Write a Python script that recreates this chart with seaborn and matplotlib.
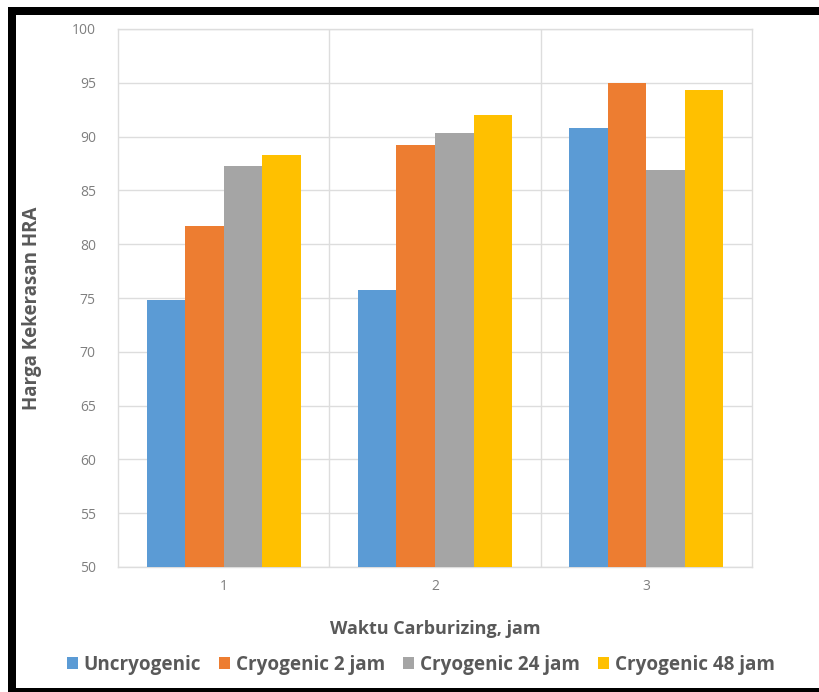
import numpy as np
import pandas as pd
import matplotlib
matplotlib.use("Agg")
import matplotlib.pyplot as plt
from matplotlib.patches import Rectangle
import seaborn as sns

# data
waktu = ["1", "2", "3"]
perlakuan = ["Uncryogenic", "Cryogenic 2 jam", "Cryogenic 24 jam", "Cryogenic 48 jam"]
uncryo = [74.8, 75.7, 90.8]
cryo_2 = [81.7, 89.2, 95.0]
cryo_24 = [87.3, 90.3, 86.9]
cryo_48 = [88.3, 92.0, 94.3]
warna = ["#5B9BD5", "#ED7D31", "#A5A5A5", "#FFC000"]

df = pd.DataFrame({
    "waktu": np.tile(waktu, 4),
    "perlakuan": np.repeat(perlakuan, 3),
    "hra": uncryo + cryo_2 + cryo_24 + cryo_48,
})

sns.set_style("white")
plt.rcParams['font.family'] = ['Open Sans', 'DejaVu Sans']

fig = plt.figure(figsize=(8.2, 6.92), dpi=100)
ax = fig.add_axes([118/820, 1-567/692, (752-118)/820, (567-29)/692])

sns.barplot(data=df, x="waktu", y="hra", hue="perlakuan", order=waktu,
            hue_order=perlakuan, palette=warna, width=0.73, gap=0,
            saturation=1, linewidth=0, ax=ax, legend=True, zorder=3)

ax.set_ylim(50, 100)
ax.set_yticks(range(50, 101, 5))
ax.set_xlim(-0.5, 2.5)
# garis grid vertikal di batas kategori
ax.set_xticks([0.5, 1.5], minor=True)
ax.grid(axis="y", which="major", color="#DDDDDD", linewidth=1, zorder=0)
ax.grid(axis="x", which="minor", color="#DDDDDD", linewidth=1, zorder=0)
ax.tick_params(axis="both", which="both", length=0, colors="#7F7F7F", labelsize=10)
ax.tick_params(axis="y", pad=16)
ax.tick_params(axis="x", pad=9)
for s in ax.spines.values():
    s.set_color("#DDDDDD")
    s.set_linewidth(1)

ax.set_ylabel("Harga Kekerasan HRA", fontsize=13.5, fontweight="bold", color="#595959")
ax.set_xlabel("Waktu Carburizing, jam", fontsize=13, fontweight="bold", color="#595959")
ax.yaxis.set_label_coords(-0.12, 0.48)
ax.xaxis.set_label_coords(0.5, -0.099)

handles, labels = ax.get_legend_handles_labels()
ax.get_legend().remove()
leg = fig.legend(handles, labels, loc="center", bbox_to_anchor=(0.513, 1-665/692),
                 ncol=4, frameon=False, handlelength=0.6, handleheight=0.6,
                 handletextpad=0.3, columnspacing=0.95,
                 prop={"size": 13.6, "weight": "bold"})
for t in leg.get_texts():
    t.set_color("#595959")

# bingkai hitam screenshot
kotak = dict(transform=fig.transFigure, facecolor="black", linewidth=0, zorder=10)
fig.patches.append(Rectangle((8/820, 1-15/692), 1-8/820, 8/692, **kotak))
fig.patches.append(Rectangle((8/820, 0), 8/820, 1-7/692, **kotak))
fig.patches.append(Rectangle((8/820, 0), 1-8/820, 4/692, **kotak))

fig.savefig("out.png", dpi=100)
